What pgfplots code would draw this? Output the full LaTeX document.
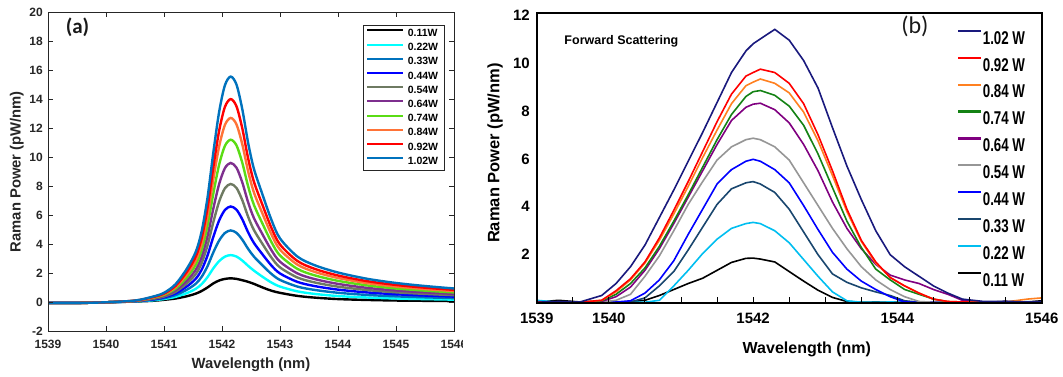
\documentclass[border=0pt]{standalone}
\usepackage{fontspec}
\setmainfont{Liberation Sans}
\newfontfamily\calibri{Carlito}
\newfontfamily\condensed[FakeStretch=0.72]{Liberation Sans}
\usepackage{pgfplots}
\usepackage{pgfplotstable}
\pgfplotsset{compat=1.18}
\newcommand\fs[1]{\fontsize{#1}{#1}\selectfont}

\definecolor{axgray}{RGB}{38,38,38}
\definecolor{aA}{RGB}{0,0,0}
\definecolor{aB}{RGB}{0,255,255}
\definecolor{aC}{RGB}{0,114,189}
\definecolor{aD}{RGB}{0,0,255}
\definecolor{aE}{RGB}{110,122,98}
\definecolor{aF}{RGB}{126,47,142}
\definecolor{aG}{RGB}{90,220,20}
\definecolor{aH}{RGB}{255,115,55}
\definecolor{aI}{RGB}{255,0,0}
\definecolor{aJ}{RGB}{0,114,189}

\definecolor{bA}{RGB}{0,0,0}
\definecolor{bB}{RGB}{0,190,240}
\definecolor{bC}{RGB}{25,70,110}
\definecolor{bD}{RGB}{0,0,255}
\definecolor{bE}{RGB}{150,150,150}
\definecolor{bF}{RGB}{128,0,128}
\definecolor{bG}{RGB}{20,130,20}
\definecolor{bH}{RGB}{255,128,32}
\definecolor{bI}{RGB}{255,0,0}
\definecolor{bJ}{RGB}{25,25,125}

\pgfplotstableread{
x c1 c2 c3 c4 c5 c6 c7 c8 c9 c10
1539.0 -0.04 -0.04 -0.04 -0.04 -0.05 -0.05 -0.05 -0.05 -0.05 -0.05
1539.5 -0.04 -0.04 -0.04 -0.04 -0.05 -0.05 -0.05 -0.05 -0.05 -0.05
1540.0 0 0 0 0 0 0 0 0 0 0
1540.5 0.05 0.058 0.067 0.075 0.083 0.090 0.098 0.106 0.112 0.12
1540.8 0.10 0.132 0.166 0.200 0.231 0.260 0.292 0.323 0.349 0.38
1541.0 0.17 0.225 0.284 0.341 0.395 0.445 0.500 0.552 0.596 0.65
1541.2 0.26 0.374 0.495 0.612 0.723 0.826 0.940 1.047 1.139 1.25
1541.4 0.42 0.642 0.877 1.107 1.323 1.524 1.746 1.954 2.134 2.35
1541.55 0.60 0.934 1.287 1.632 1.957 2.259 2.592 2.906 3.175 3.5
1541.65 0.78 1.254 1.756 2.247 2.708 3.137 3.610 4.055 4.439 4.9
1541.75 1.02 1.731 2.485 3.220 3.912 4.555 5.266 5.933 6.508 7.2
1541.85 1.30 2.335 3.433 4.504 5.512 6.448 7.483 8.455 9.292 10.3
1541.95 1.50 2.834 4.249 5.630 6.929 8.135 9.469 10.722 11.801 13.1
1542.05 1.61 3.144 4.772 6.359 7.853 9.240 10.775 12.215 13.456 14.95
1542.15 1.65 3.25 4.95 6.6 8.15 9.6 11.2 12.7 14.0 15.55
1542.25 1.61 3.150 4.783 6.377 7.877 9.269 10.809 12.255 13.500 15.0
1542.35 1.52 2.875 4.312 5.714 7.033 8.258 9.613 10.885 11.981 13.3
1542.45 1.41 2.513 3.683 4.824 5.898 6.895 7.998 9.034 9.926 11.0
1542.55 1.27 2.182 3.149 4.093 4.981 5.806 6.718 7.574 8.312 9.2
1542.7 1.02 1.754 2.532 3.291 4.006 4.669 5.403 6.092 6.685 7.4
1542.85 0.80 1.364 1.961 2.544 3.093 3.603 4.166 4.696 5.151 5.7
1543.0 0.65 1.081 1.539 1.985 2.405 2.795 3.226 3.631 3.980 4.4
1543.3 0.44 0.752 1.082 1.405 1.708 1.990 2.302 2.594 2.846 3.15
1543.6 0.32 0.576 0.849 1.114 1.364 1.596 1.852 2.093 2.300 2.55
1544.0 0.22 0.430 0.654 0.871 1.076 1.267 1.477 1.675 1.845 2.05
1544.5 0.16 0.328 0.506 0.680 0.843 0.995 1.163 1.321 1.456 1.62
1545.0 0.12 0.259 0.407 0.551 0.686 0.812 0.951 1.082 1.194 1.33
1545.5 0.10 0.217 0.342 0.463 0.577 0.683 0.801 0.911 1.006 1.12
1546.0 0.08 0.180 0.286 0.390 0.487 0.578 0.678 0.772 0.853 0.95
}\dataA

\pgfplotstableread{
x c1 c2 c3 c4 c5 c6 c7 c8 c9 c10
1539.0 0.02 0.10 0.03 0.02 0.03 0.02 0.02 0.02 0.03 0.02
1539.3 0.10 0.02 0.02 0.03 0.02 0.02 0.03 0.02 0.02 0.05
1539.6 0.03 0.02 0.02 0.02 0.02 0.03 0.02 0.03 0.02 0.03
1539.9 0.02 0.02 0.02 0.02 0.03 0.05 0.08 0.10 0.10 0.30
1540.1 0.02 0.02 0.02 0.03 0.10 0.25 0.35 0.45 0.50 0.80
1540.3 0.04 0.02 0.03 0.08 0.35 0.65 0.80 0.95 1.00 1.50
1540.5 0.10 0.02 0.20 0.40 1.10 1.35 1.45 1.65 1.70 2.40
1540.7 0.30 0.10 0.70 0.95 1.95 2.25 2.35 2.60 2.70 3.55
1540.9 0.55 0.70 1.30 1.75 3.00 3.30 3.40 3.70 3.85 4.70
1541.1 0.80 1.35 2.20 2.85 4.10 4.40 4.50 4.85 5.05 5.90
1541.3 1.02 2.05 3.15 3.90 5.05 5.50 5.65 6.05 6.30 7.10
1541.5 1.35 2.65 4.10 4.95 5.95 6.60 6.80 7.20 7.55 8.35
1541.7 1.68 3.10 4.75 5.55 6.50 7.60 7.85 8.30 8.70 9.60
1541.9 1.85 3.30 5.00 5.90 6.80 8.15 8.60 9.05 9.45 10.50
1542.0 1.86 3.35 5.05 5.98 6.86 8.28 8.80 9.20 9.60 10.80
1542.1 1.82 3.30 4.95 5.90 6.80 8.32 8.85 9.33 9.74 11.00
1542.3 1.70 3.00 4.60 5.55 6.50 8.05 8.65 9.15 9.60 11.40
1542.5 1.30 2.50 3.90 5.00 5.95 7.50 8.20 8.75 9.15 10.95
1542.7 0.90 1.80 2.95 4.05 5.00 6.60 7.40 7.95 8.30 10.10
1542.9 0.52 1.10 2.00 3.05 4.05 5.50 6.20 6.75 7.00 8.95
1543.1 0.22 0.45 1.20 2.10 3.10 4.20 4.80 5.30 5.50 7.30
1543.3 0.05 0.08 0.85 1.40 2.25 3.10 3.40 3.80 3.90 5.70
1543.5 0.02 0.02 0.62 0.90 1.50 2.25 2.30 2.55 2.60 4.30
1543.7 0.03 0.02 0.45 0.55 0.95 1.60 1.40 1.65 1.70 3.00
1543.9 0.02 0.03 0.30 0.25 0.55 1.15 0.95 1.05 1.05 2.00
1544.1 0.03 0.02 0.08 0.03 0.25 0.95 0.55 0.70 0.70 1.50
1544.3 0.02 0.02 0.02 0.02 0.05 0.80 0.35 0.40 0.40 1.10
1544.5 0.03 0.03 0.03 0.03 0.02 0.55 0.15 0.15 0.15 0.70
1544.7 0.02 0.02 0.02 0.02 0.03 0.35 0.04 0.05 0.05 0.40
1544.9 0.03 0.02 0.03 0.02 0.02 0.10 0.02 0.03 0.03 0.15
1545.2 0.02 0.03 0.02 0.03 0.02 0.03 0.03 0.02 0.02 0.05
1545.5 0.05 0.02 0.03 0.02 0.03 0.02 0.02 0.03 0.04 0.06
1545.8 0.03 0.04 0.02 0.03 0.02 0.03 0.03 0.15 0.02 0.03
1546.0 0.08 0.02 0.03 0.02 0.03 0.02 0.02 0.20 0.03 0.05
}\dataB

\begin{document}
\begin{tikzpicture}[x=1pt,y=1pt]
\useasboundingbox (0,0) rectangle (1063,376);
\begin{scope}
\clip (0,0) rectangle (462,376);
\begin{axis}[
  at={(48pt,44.7pt)}, anchor=south west, scale only axis,
  width=406pt, height=319.3pt,
  xmin=1539, xmax=1546, ymin=-2, ymax=20,
  xtick={1539,1540,1541,1542,1543,1544,1545,1546},
  xticklabels={\textbf{1539},\textbf{1540},\textbf{1541},\textbf{1542},\textbf{1543},\textbf{1544},\textbf{1545},\textbf{1546}},
  ytick={-2,0,2,4,6,8,10,12,14,16,18,20},
  yticklabels={\textbf{-2},\textbf{0},\textbf{2},\textbf{4},\textbf{6},\textbf{8},\textbf{10},\textbf{12},\textbf{14},\textbf{16},\textbf{18},\textbf{20}},
  tick align=inside, major tick length=5pt,
  axis line style={draw=axgray, line width=0.8pt},
  tick style={draw=axgray, line width=0.7pt},
  tick label style={font=\bfseries\fs{12}, text=black!85},
  xticklabel style={yshift=-5.5pt},
  yticklabel style={xshift=-1.7pt},
  xlabel={Wavelength (nm)}, ylabel={Raman Power (pW/nm)},
  label style={font=\bfseries\fs{14.8}, text=axgray},
  xlabel style={at={(axis description cs:0.5,-0.1034)}, anchor=center},
  ylabel style={at={(axis description cs:-0.0771,0.5)}, anchor=center},
  axis on top,
  legend style={at={(axis description cs:0.978,0.959)}, anchor=north east,
    draw=axgray, line width=0.8pt, fill=white, font=\bfseries\fs{10.5},
    inner xsep=3pt, inner ysep=1.5pt, row sep=0pt,
    nodes={inner xsep=3.5pt, inner ysep=0.4pt, text height=9.2pt, text depth=4.2pt}},
  legend cell align=left,
  legend image code/.code={\draw[#1, line width=2pt] (0pt,3.6pt) -- (36pt,3.6pt);},
]
\addplot[aA, line width=2.4pt, smooth] table[x=x,y=c1]{\dataA}; \addlegendentry{0.11W}
\addplot[aB, line width=2.4pt, smooth] table[x=x,y=c2]{\dataA}; \addlegendentry{0.22W}
\addplot[aC, line width=2.4pt, smooth] table[x=x,y=c3]{\dataA}; \addlegendentry{0.33W}
\addplot[aD, line width=2.4pt, smooth] table[x=x,y=c4]{\dataA}; \addlegendentry{0.44W}
\addplot[aE, line width=2.4pt, smooth] table[x=x,y=c5]{\dataA}; \addlegendentry{0.54W}
\addplot[aF, line width=2.4pt, smooth] table[x=x,y=c6]{\dataA}; \addlegendentry{0.64W}
\addplot[aG, line width=2.4pt, smooth] table[x=x,y=c7]{\dataA}; \addlegendentry{0.74W}
\addplot[aH, line width=2.4pt, smooth] table[x=x,y=c8]{\dataA}; \addlegendentry{0.84W}
\addplot[aI, line width=2.4pt, smooth] table[x=x,y=c9]{\dataA}; \addlegendentry{0.92W}
\addplot[aJ, line width=2.4pt, smooth] table[x=x,y=c10]{\dataA}; \addlegendentry{1.02W}
\node[font=\calibri\bfseries\fs{21}, text=black!90] at (axis description cs:0.0727,0.9515) {(a)};
\end{axis}
\end{scope}

\begin{axis}[
  at={(536.7pt,73.3pt)}, anchor=south west, scale only axis,
  width=505pt, height=289.4pt,
  xmin=1539, xmax=1546, ymin=0, ymax=12.07,
  xtick={1539,1539.5,1540,1540.5,1541,1541.5,1542,1542.5,1543,1543.5,1544,1544.5,1545,1545.5,1546},
  xticklabels={\textbf{1539},,\textbf{1540},,,,\textbf{1542},,,,\textbf{1544},,,,\textbf{1546}},
  ytick={2,4,6,8,10,12},
  yticklabels={\textbf{2},\textbf{4},\textbf{6},\textbf{8},\textbf{10},\textbf{12}},
  xtick pos=lower, ytick style={draw=none},
  tick align=inside, major tick length=6pt,
  axis line style={black, line width=2.2pt},
  xtick style={black, line width=0.9pt},
  tick label style={font=\bfseries\fs{15}, text=black},
  xticklabel style={yshift=-6.5pt},
  yticklabel style={xshift=-3.4pt},
  xlabel={Wavelength (nm)}, ylabel={Raman Power (pW/nm)},
  xlabel style={font=\bfseries\fs{16}, at={(axis description cs:0.535,-0.163)}, anchor=center},
  ylabel style={font=\bfseries\fs{16.5}, at={(axis description cs:-0.0826,0.517)}, anchor=center},
  axis on top,
  legend style={at={(axis description cs:0.832,0.9636)}, anchor=north west,
    draw=none, fill=none, font=\condensed\bfseries\fs{18.5},
    inner sep=0pt, row sep=0pt,
    nodes={inner xsep=1.2pt, inner ysep=0pt, text height=20.1pt, text depth=6.8pt}},
  legend cell align=left, reverse legend,
  legend image code/.code={\draw[#1, line width=2.2pt] (0pt,6.6pt) -- (22.4pt,6.6pt);},
]
\addplot[bA, line width=1.6pt] table[x=x,y=c1]{\dataB}; \addlegendentry{0.11 W}
\addplot[bB, line width=1.6pt] table[x=x,y=c2]{\dataB}; \addlegendentry{0.22 W}
\addplot[bC, line width=1.6pt] table[x=x,y=c3]{\dataB}; \addlegendentry{0.33 W}
\addplot[bD, line width=1.6pt] table[x=x,y=c4]{\dataB}; \addlegendentry{0.44 W}
\addplot[bE, line width=1.6pt] table[x=x,y=c5]{\dataB}; \addlegendentry{0.54 W}
\addplot[bF, line width=1.6pt] table[x=x,y=c6]{\dataB}; \addlegendentry{0.64 W}
\addplot[bG, line width=1.6pt] table[x=x,y=c7]{\dataB}; \addlegendentry{0.74 W}
\addplot[bH, line width=1.6pt] table[x=x,y=c8]{\dataB}; \addlegendentry{0.84 W}
\addplot[bI, line width=1.6pt] table[x=x,y=c9]{\dataB}; \addlegendentry{0.92 W}
\addplot[bJ, line width=1.6pt] table[x=x,y=c10]{\dataB}; \addlegendentry{1.02 W}
\node[font=\bfseries\fs{12.5}, anchor=west] at (axis description cs:0.048,0.904) {Forward Scattering};
\node[font=\calibri\fs{24}, text=black!90] at (axis description cs:0.749,0.956) {(b)};
\end{axis}
\end{tikzpicture}
\end{document}
